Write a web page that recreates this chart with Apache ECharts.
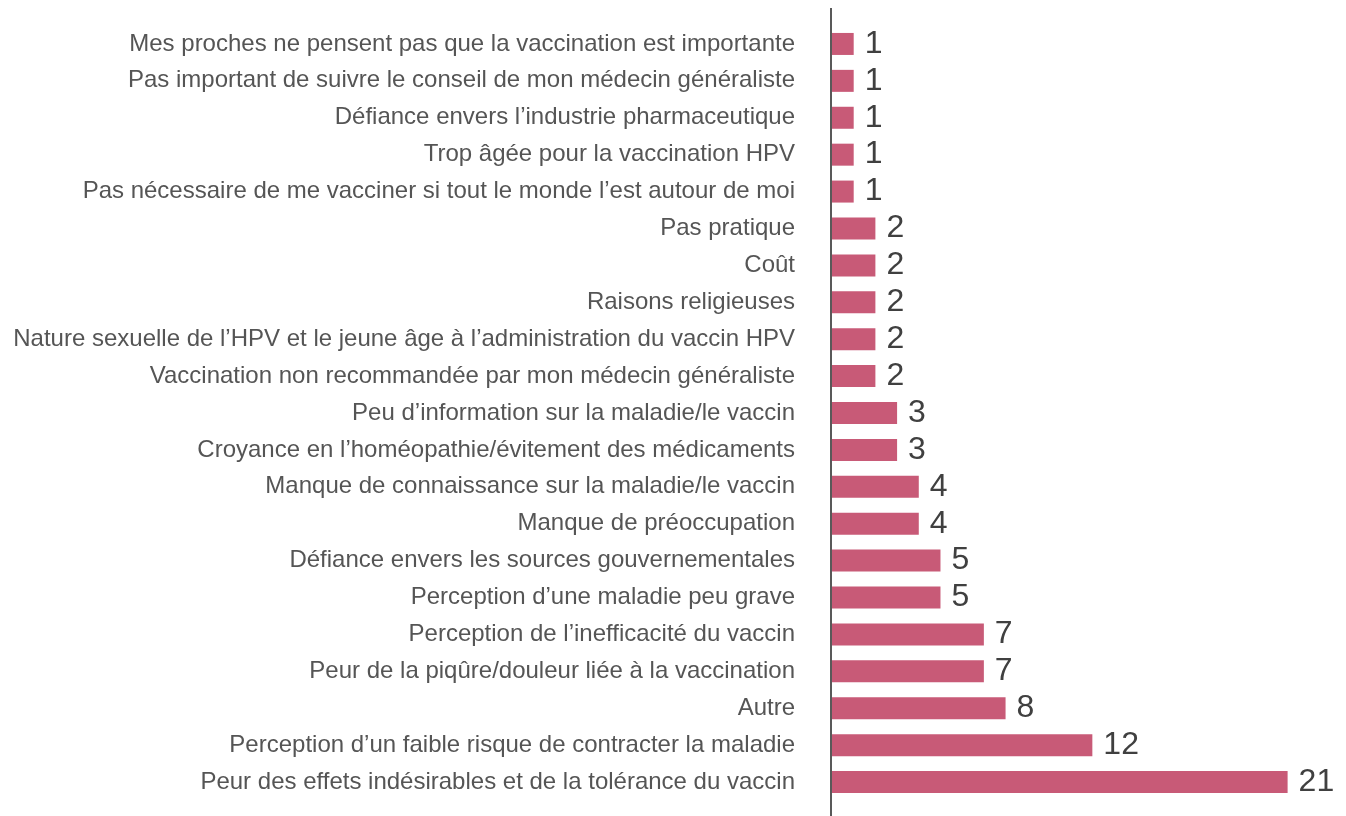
<!DOCTYPE html>
<html>
<head>
<meta charset="utf-8">
<script src="https://cdn.jsdelivr.net/npm/echarts@6/dist/echarts.min.js"></script>
<style>html,body{margin:0;padding:0;background:#fff}#c{width:1346px;height:816px}</style>
</head>
<body>
<div id="c"></div>
<script>
const categories = [
  "Mes proches ne pensent pas que la vaccination est importante",
  "Pas important de suivre le conseil de mon médecin généraliste",
  "Défiance envers l’industrie pharmaceutique",
  "Trop âgée pour la vaccination HPV",
  "Pas nécessaire de me vacciner si tout le monde l’est autour de moi",
  "Pas pratique",
  "Coût",
  "Raisons religieuses",
  "Nature sexuelle de l’HPV et le jeune âge à l’administration du vaccin HPV",
  "Vaccination non recommandée par mon médecin généraliste",
  "Peu d’information sur la maladie/le vaccin",
  "Croyance en l’homéopathie/évitement des médicaments",
  "Manque de connaissance sur la maladie/le vaccin",
  "Manque de préoccupation",
  "Défiance envers les sources gouvernementales",
  "Perception d’une maladie peu grave",
  "Perception de l’inefficacité du vaccin",
  "Peur de la piqûre/douleur liée à la vaccination",
  "Autre",
  "Perception d’un faible risque de contracter la maladie",
  "Peur des effets indésirables et de la tolérance du vaccin"
];
const values = [1, 1, 1, 1, 1, 2, 2, 2, 2, 2, 3, 3, 4, 4, 5, 5, 7, 7, 8, 12, 21];

const chart = echarts.init(document.getElementById('c'), null, {renderer: 'canvas'});
chart.setOption({
  animation: false,
  grid: {left: 832, right: 15, top: 25.5, bottom: 15.5, containLabel: false},
  xAxis: {type: 'value', min: 0, max: 23, show: false},
  yAxis: {
    type: 'category', data: categories, inverse: true,
    axisLine: {show: false}, axisTick: {show: false},
    axisLabel: {color: '#555555', fontSize: 24, fontFamily: 'Liberation Sans, Arial, sans-serif', margin: 37}
  },
  series: [{
    type: 'bar', data: values, barWidth: 22,
    itemStyle: {color: '#C85A77'},
    label: {show: true, position: 'right', distance: 11, color: '#404040', fontSize: 32, fontFamily: 'Liberation Sans, Arial, sans-serif'}
  }],
  graphic: [{
    type: 'line', shape: {x1: 831, y1: 8, x2: 831, y2: 816},
    style: {stroke: '#595959', lineWidth: 2}
  }]
});
</script>
</body>
</html>
